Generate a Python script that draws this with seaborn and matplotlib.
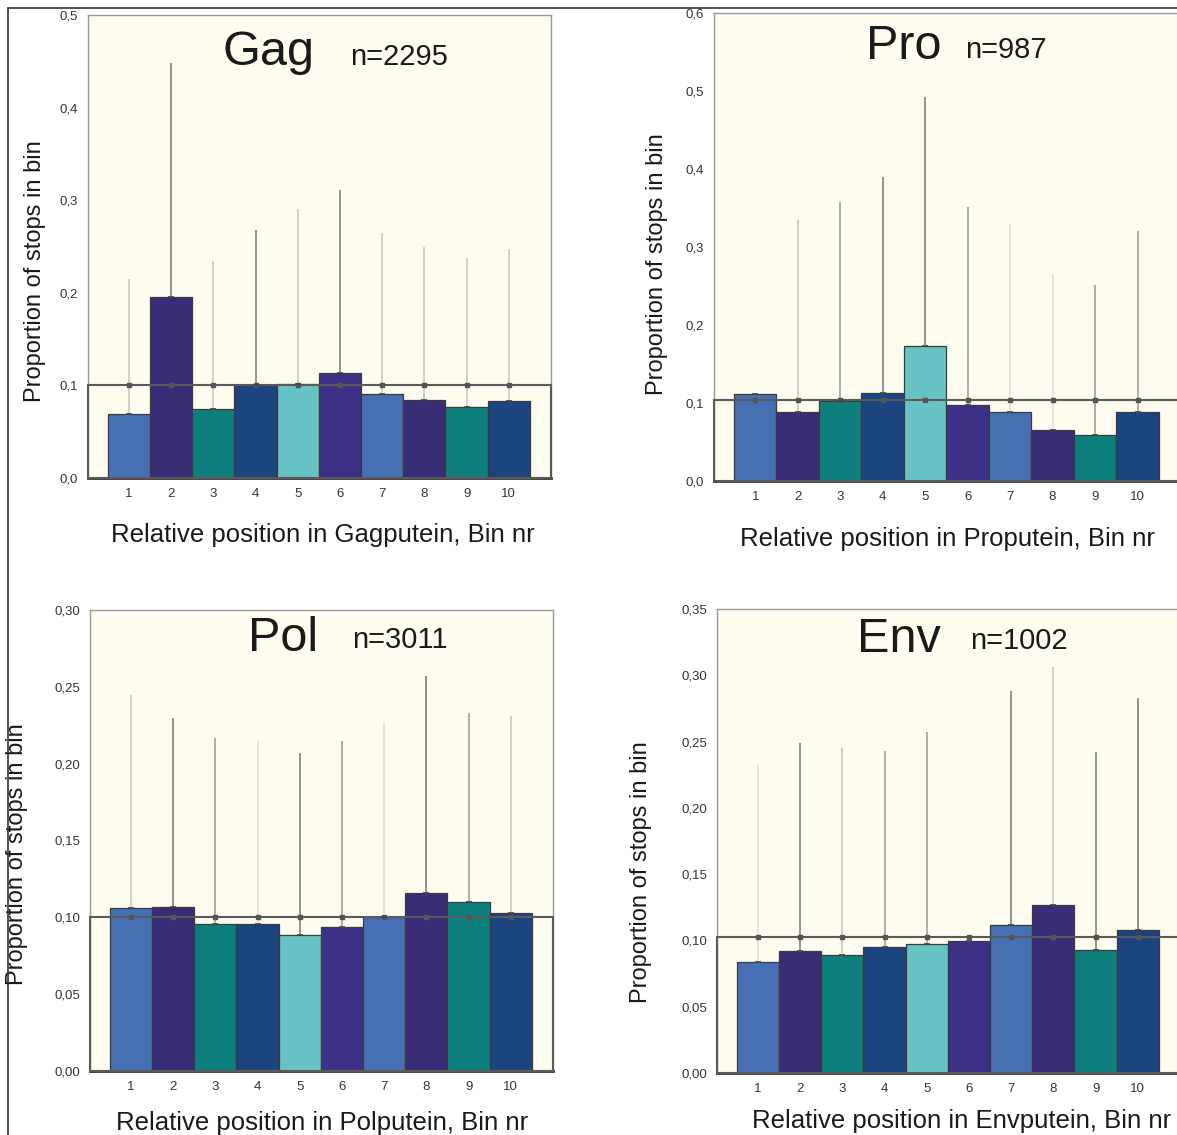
import numpy as np
import pandas as pd
import matplotlib
matplotlib.use("Agg")
import matplotlib.pyplot as plt
from matplotlib.lines import Line2D
from matplotlib.patches import Rectangle
import seaborn as sns

sns.set_theme(style="white")
plt.rcParams['font.family'] = ['Liberation Sans', 'DejaVu Sans']

# ---------------- data ----------------
bins = ["1", "2", "3", "4", "5", "6", "7", "8", "9", "10"]

gag_n = "n=2295"
gag_values = [0.069, 0.196, 0.075, 0.100, 0.101, 0.113, 0.091, 0.084, 0.077, 0.083]
gag_upper = [0.215, 0.448, 0.234, 0.268, 0.291, 0.311, 0.265, 0.249, 0.238, 0.247]
gag_ref = 0.100

pro_n = "n=987"
pro_values = [0.111, 0.089, 0.103, 0.113, 0.173, 0.097, 0.088, 0.066, 0.059, 0.088]
pro_upper = [0.111, 0.335, 0.358, 0.390, 0.492, 0.351, 0.330, 0.265, 0.251, 0.320]
pro_ref = 0.1035

pol_n = "n=3011"
pol_values = [0.106, 0.1065, 0.0955, 0.0955, 0.0885, 0.094, 0.100, 0.116, 0.110, 0.1025]
pol_upper = [0.245, 0.230, 0.217, 0.215, 0.207, 0.215, 0.227, 0.257, 0.233, 0.231]
pol_ref = 0.100

env_n = "n=1002"
env_values = [0.0835, 0.092, 0.089, 0.095, 0.097, 0.0995, 0.112, 0.1265, 0.093, 0.108]
env_upper = [0.232, 0.249, 0.245, 0.243, 0.257, 0.0995, 0.288, 0.306, 0.242, 0.283]
env_ref = 0.1025

# ---------------- styles ----------------
bar_colors = ["#4670B3", "#392E76", "#0D807E", "#1C457F", "#67C3C3",
              "#3C3186", "#4670B3", "#392E76", "#0D807E", "#1C457F"]
shade = {"d": "#808080", "m": "#a0a0a0", "l": "#c8c8c8", "v": "#e0e0e0"}
gag_shade = "ldldldllll"
pro_shade = "dlmddmvvmm"
pol_shade = "ldmvdmvdml"
env_shade = "vdlmmmdldd"

W, H = 1177, 1135
fig = plt.figure(figsize=(W / 100, H / 100), dpi=100)
fig.patch.set_facecolor("white")


def px_axes(left, top, right, bottom):
    return fig.add_axes([left / W, 1 - bottom / H, (right - left) / W, (bottom - top) / H])


panels = [
    dict(name="Gag", n=gag_n, vals=gag_values, up=gag_upper, ref=gag_ref, sh=gag_shade,
         box=(88, 15, 551, 478), ymax=0.5, step=0.1, fmt="{:.1f}",
         title_x=0.389, title_y=0.92, n_x=0.566, n_y=0.909,
         yl=(-0.091, 0.447), xl=(0.508, -0.123)),
    dict(name="Pro", n=pro_n, vals=pro_values, up=pro_upper, ref=pro_ref, sh=pro_shade,
         box=(714, 13, 1180, 481), ymax=0.6, step=0.1, fmt="{:.1f}",
         title_x=0.408, title_y=0.929, n_x=0.539, n_y=0.921,
         yl=(-0.099, 0.464), xl=(0.50, -0.124)),
    dict(name="Pol", n=pol_n, vals=pol_values, up=pol_upper, ref=pol_ref, sh=pol_shade,
         box=(90, 610, 553, 1071), ymax=0.30, step=0.05, fmt="{:.2f}",
         title_x=0.417, title_y=0.939, n_x=0.566, n_y=0.935,
         yl=(-0.134, 0.47), xl=(0.501, -0.113)),
    dict(name="Env", n=env_n, vals=env_values, up=env_upper, ref=env_ref, sh=env_shade,
         box=(717, 609, 1180, 1073), ymax=0.35, step=0.05, fmt="{:.2f}",
         title_x=0.393, title_y=0.935, n_x=0.546, n_y=0.931,
         yl=(-0.14, 0.433), xl=(0.529, -0.103)),
]

for p in panels:
    ax = px_axes(*p["box"])
    ax.set_facecolor("#FEFBEF")
    df = pd.DataFrame({"bin": bins, "val": p["vals"]})
    sns.barplot(data=df, x="bin", y="val", hue="bin", order=bins, hue_order=bins,
                palette=bar_colors, legend=False, width=1.0, edgecolor="#3a3a3a",
                linewidth=0.9, saturation=1.0, ax=ax, zorder=2)
    ax.set_xlim(-0.97, 10.0)
    ax.set_ylim(0, p["ymax"])

    # reference line
    ax.axhline(p["ref"], color="#808080", lw=1.3, zorder=3)
    ax.add_patch(Rectangle((-0.97, 0), 10.97, p["ref"], fill=False,
                           edgecolor="#5a5a5a", lw=1.5, zorder=4, clip_on=False))

    # error lines from bars
    centers = [b.get_x() + b.get_width() / 2 for b in ax.patches]
    for c, v, u, s in zip(centers, p["vals"], p["up"], p["sh"]):
        if u > v:
            ax.vlines(c, v, u, color=shade[s], lw=1.2, zorder=1.5)
        ax.plot([c], [p["ref"]], marker="s", ms=2.6, color="#555555", zorder=5)
        ax.plot([c], [v], marker="_", ms=4, mew=1.2, color="#444444", zorder=5)

    yt = np.arange(0, p["ymax"] + 1e-9, p["step"])
    ax.set_yticks(yt)
    ax.set_yticklabels([p["fmt"].format(t).replace(".", ",") for t in yt],
                       fontsize=9.5, color="#333333")
    ax.set_xticks(range(10))
    ax.set_xticklabels(bins, fontsize=9.5, color="#333333")
    ax.tick_params(axis="both", length=0, pad=7)
    ax.set_xlabel("")
    ax.set_ylabel("Proportion of stops in bin", fontsize=17, color="#1a1a1a")
    ax.yaxis.set_label_coords(*p["yl"])

    for side in ["top", "right", "left"]:
        ax.spines[side].set_color("#999999")
        ax.spines[side].set_linewidth(1.0)
    ax.spines["bottom"].set_color("#333333")
    ax.spines["bottom"].set_linewidth(2.0)

    ax.text(p["title_x"], p["title_y"], p["name"], transform=ax.transAxes,
            fontsize=35, ha="center", va="center", color="#1a1a1a")
    ax.text(p["n_x"], p["n_y"], p["n"], transform=ax.transAxes,
            fontsize=21, ha="left", va="center", color="#1a1a1a")
    ax.text(p["xl"][0], p["xl"][1],
            "Relative position in " + p["name"] + "putein, Bin nr",
            transform=ax.transAxes, fontsize=18.5, ha="center", va="center",
            color="#1a1a1a")

# outer frame lines
fig.add_artist(Line2D([8 / W, 8 / W], [0, 1 - 8 / H], transform=fig.transFigure,
                      color="#333333", lw=1.2))
fig.add_artist(Line2D([8 / W, 1], [1 - 8 / H, 1 - 8 / H], transform=fig.transFigure,
                      color="#333333", lw=1.2))

fig.savefig("out.png", dpi=100, facecolor="white")
